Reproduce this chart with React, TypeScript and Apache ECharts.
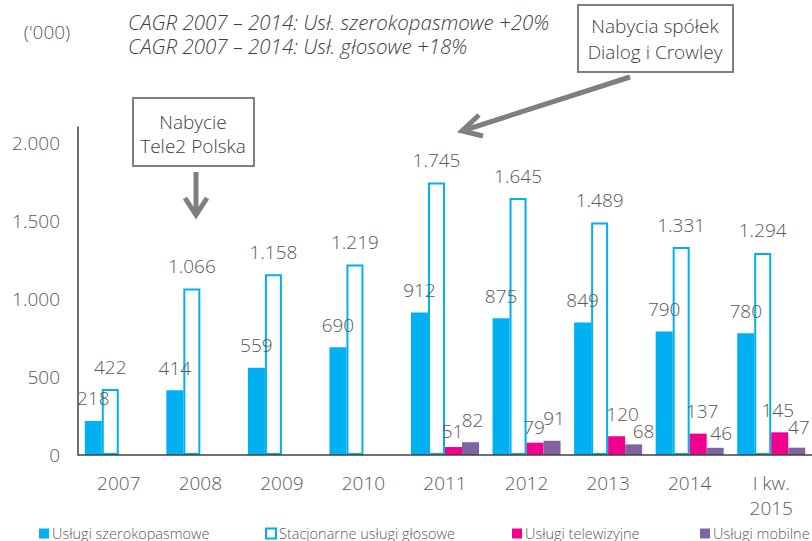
import React, { useEffect, useRef } from "react";
import * as echarts from "echarts";

const categories = ["2007", "2008", "2009", "2010", "2011", "2012", "2013", "2014", "I kw.\n2015"];
const broadband = [218, 414, 559, 690, 912, 875, 849, 790, 780];
const voice = [422, 1066, 1158, 1219, 1745, 1645, 1489, 1331, 1294];
const tv = [null, null, null, null, 51, 79, 120, 137, 145];
const mobile = [null, null, null, null, 82, 91, 68, 46, 47];
const seriesNames = [
  "Usługi szerokopasmowe",
  "Stacjonarne usługi głosowe",
  "Usługi telewizyjne",
  "Usługi mobilne",
];
const yTicks = [0, 500, 1000, 1500, 2000];
const cagrLines = [
  "CAGR 2007 – 2014: Usł. szerokopasmowe +20%",
  "CAGR 2007 – 2014: Usł. głosowe +18%",
];

const FONT = "'Open Sans', 'Noto Sans', sans-serif";
const GREY = "#595959";
const BLUE = "#00B0F0";
const PINK = "#F0008C";
const PURPLE = "#8064A2";
const ARROW = "#7f7f7f";

// label nudges (px) for crowded small bars
const tvOffsets: Record<number, number[]> = { 4: [-1, 6], 5: [-1, 7], 6: [6, 0], 7: [4, 0], 8: [-2, 0] };
const mobileOffsets: Record<number, number[]> = { 4: [2, 0], 5: [2, 0], 6: [10, 9], 7: [6, 8], 8: [2, 2] };

const fmt = (v: number) =>
  v >= 1000 ? `${Math.floor(v / 1000)}.${String(v % 1000).padStart(3, "0")}` : String(v);

const withOffsets = (arr: (number | null)[], offsets: Record<number, number[]>) =>
  arr.map((v, i) => (offsets[i] ? { value: v, label: { offset: offsets[i] } } : v));

export default function App() {
  const ref = useRef<HTMLDivElement>(null);
  useEffect(() => {
    if (!ref.current) return;
    const chart = echarts.init(ref.current, undefined, { renderer: "svg" });
    const labelCfg = {
      show: true,
      position: "top",
      distance: 13,
      color: GREY,
      fontSize: 19,
      fontFamily: FONT,
      fontWeight: 300,
      formatter: (p: any) => fmt(p.value),
    };
    const legendBase = {
      top: 521,
      icon: "rect",
      itemWidth: 10,
      itemHeight: 10,
      itemGap: 0,
      textStyle: {
        color: GREY,
        fontSize: 14.5,
        lineHeight: 15,
        fontFamily: FONT,
        fontWeight: 300,
        padding: [0, 0, 0, -2],
      },
      selectedMode: false,
    };
    const italicStyle = {
      fontSize: 20.5,
      lineHeight: 21,
      fontStyle: "italic",
      fontFamily: FONT,
      fontWeight: 300,
      fill: "#404040",
      align: "left",
      verticalAlign: "middle",
    };
    chart.setOption({
      animation: false,
      backgroundColor: "#ffffff",
      grid: { left: 78, top: 127, width: 738, height: 328 },
      xAxis: {
        type: "category",
        data: categories,
        axisLine: { show: false },
        axisTick: { show: false },
        axisLabel: {
          color: GREY,
          fontSize: 19,
          fontFamily: FONT,
          fontWeight: 300,
          margin: 15,
          lineHeight: 25,
          interval: 0,
        },
      },
      yAxis: {
        type: "value",
        min: 0,
        max: 2100,
        interval: 500,
        splitLine: { show: false },
        axisTick: { show: false },
        axisLine: { show: true, lineStyle: { color: "#404040", width: 1.5 } },
        axisLabel: {
          color: GREY,
          fontSize: 19,
          fontFamily: FONT,
          fontWeight: 300,
          margin: 18,
          formatter: (v: number) => (yTicks.includes(v) ? fmt(v) : ""),
        },
      },
      legend: [
        { ...legendBase, left: 34, data: [seriesNames[0]] },
        {
          ...legendBase,
          left: 260,
          data: [
            {
              name: seriesNames[1],
              itemStyle: { color: "#ffffff", borderColor: BLUE, borderWidth: 2 },
            },
          ],
        },
        { ...legendBase, left: 507, data: [seriesNames[2]] },
        { ...legendBase, left: 695, data: [seriesNames[3]] },
      ],
      series: [
        {
          name: seriesNames[0],
          type: "bar",
          data: broadband,
          barWidth: 17,
          barGap: "0%",
          itemStyle: { color: BLUE },
          label: labelCfg,
        },
        {
          name: seriesNames[1],
          type: "bar",
          data: voice,
          barWidth: 17,
          barGap: "0%",
          itemStyle: { color: "#ffffff", borderColor: BLUE, borderWidth: 2 },
          label: labelCfg,
        },
        {
          name: seriesNames[2],
          type: "bar",
          data: withOffsets(tv, tvOffsets),
          barWidth: 17,
          barGap: "0%",
          itemStyle: { color: PINK },
          label: labelCfg,
        },
        {
          name: seriesNames[3],
          type: "bar",
          data: withOffsets(mobile, mobileOffsets),
          barWidth: 17,
          barGap: "0%",
          itemStyle: { color: PURPLE },
          label: labelCfg,
        },
      ],
      graphic: [
        // x axis baseline
        {
          type: "line",
          shape: { x1: 78, y1: 455, x2: 812, y2: 455 },
          style: { stroke: "#404040", lineWidth: 1.5 },
          z: 10,
        },
        {
          type: "text",
          x: 47,
          y: 32,
          style: {
            text: "('000)",
            fontSize: 19,
            fontFamily: FONT,
            fontWeight: 300,
            fill: GREY,
            align: "center",
            verticalAlign: "middle",
          },
        },
        { type: "text", x: 128, y: 22, style: { ...italicStyle, text: cagrLines[0] } },
        { type: "text", x: 128, y: 46, style: { ...italicStyle, text: cagrLines[1] } },
        // Tele2 box
        {
          type: "rect",
          shape: { x: 133, y: 98, width: 121, height: 68 },
          style: { fill: "#ffffff", stroke: ARROW, lineWidth: 2 },
        },
        {
          type: "text",
          x: 193,
          y: 134,
          style: {
            text: "Nabycie\nTele2 Polska",
            fontSize: 19,
            lineHeight: 24,
            fontFamily: FONT,
            fontWeight: 300,
            fill: "#404040",
            align: "center",
            verticalAlign: "middle",
          },
        },
        {
          type: "polyline",
          shape: { points: [[196, 172], [196, 214]] },
          style: { stroke: ARROW, lineWidth: 5, fill: null },
        },
        {
          type: "polyline",
          shape: { points: [[185, 198], [196, 215], [207, 198]] },
          style: { stroke: ARROW, lineWidth: 5, fill: null, lineJoin: "miter" },
        },
        // Dialog box
        {
          type: "rect",
          shape: { x: 578, y: 5, width: 155, height: 67 },
          style: { fill: "#ffffff", stroke: ARROW, lineWidth: 2 },
        },
        {
          type: "text",
          x: 655,
          y: 39,
          style: {
            text: "Nabycia spółek\nDialog i Crowley",
            fontSize: 19,
            lineHeight: 26,
            fontFamily: FONT,
            fontWeight: 300,
            fill: "#404040",
            align: "center",
            verticalAlign: "middle",
          },
        },
        {
          type: "polyline",
          shape: { points: [[630, 77], [465, 130]] },
          style: { stroke: ARROW, lineWidth: 5, fill: null },
        },
        {
          type: "polyline",
          shape: { points: [[479, 115], [462, 131], [483, 136]] },
          style: { stroke: ARROW, lineWidth: 5, fill: null, lineJoin: "miter" },
        },
      ],
    });
    return () => chart.dispose();
  }, []);
  return (
    <div
      ref={ref}
      style={{ position: "fixed", left: 0, top: 0, width: 812, height: 541, background: "#fff" }}
    />
  );
}
